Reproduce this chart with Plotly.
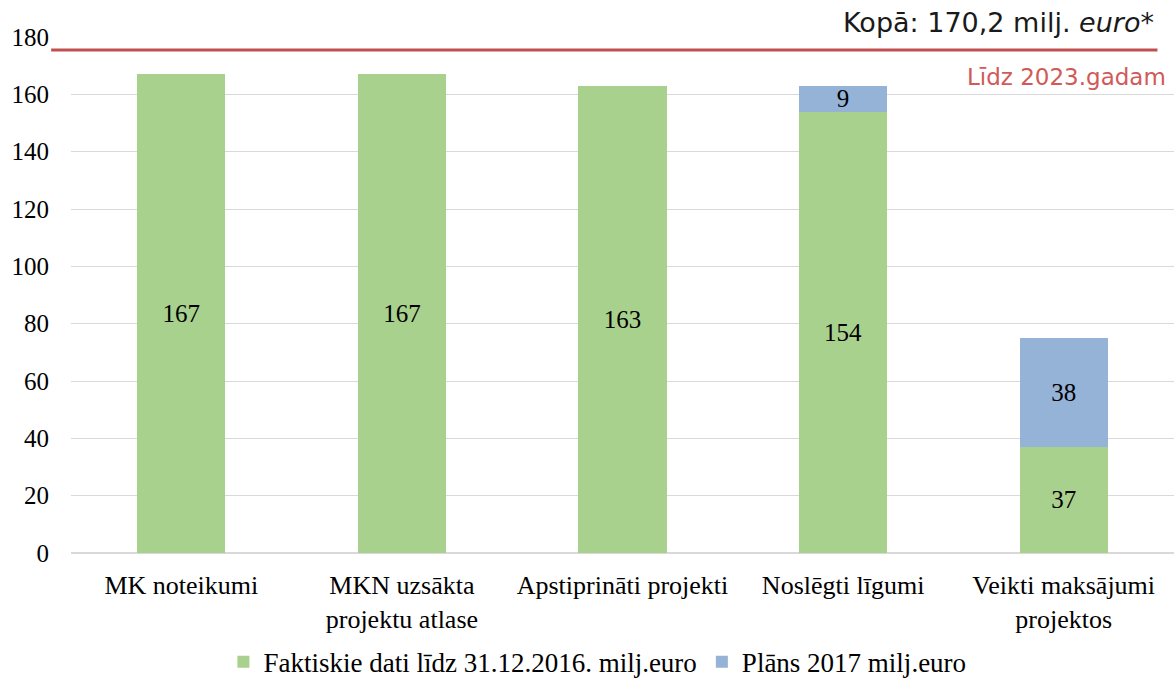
import plotly.graph_objects as go

categories = ["MK noteikumi", "MKN uzsākta<br>projektu atlase", "Apstiprināti projekti",
              "Noslēgti līgumi", "Veikti maksājumi<br>projektos"]
actual = [167, 167, 163, 154, 37]
plan = [None, None, None, 9, 38]
series_names = ["Faktiskie dati līdz 31.12.2016. milj.euro", "Plāns 2017 milj.euro"]
total_line = 175.5
y_ticks = [0, 20, 40, 60, 80, 100, 120, 140, 160, 180]

serif = "Liberation Serif"
sans = "DejaVu Sans"

fig = go.Figure()
fig.add_trace(go.Bar(
    x=categories, y=actual, name=series_names[0],
    marker=dict(color="#a9d18e", line=dict(width=0)),
    text=[str(v) for v in actual], textposition="inside", insidetextanchor="middle",
    textangle=0, constraintext="none",
    textfont=dict(family=serif, size=25, color="#000000"), width=0.4,
))
fig.add_trace(go.Bar(
    x=categories, y=plan, name=series_names[1],
    marker=dict(color="#95b3d7", line=dict(width=0)),
    text=[str(v) if v else "" for v in plan], textposition="inside", insidetextanchor="middle",
    textangle=0, constraintext="none",
    textfont=dict(family=serif, size=25, color="#000000"), width=0.4,
))

fig.add_shape(type="line", xref="paper", yref="y", x0=-0.018, x1=0.985,
              y0=total_line, y1=total_line, line=dict(color="#c0504d", width=3))
fig.add_annotation(xref="paper", yref="paper", x=0.984, y=1.029, xanchor="right", yanchor="middle",
                   text="Kopā: 170,2 milj. <i>euro</i>*", showarrow=False,
                   font=dict(family=sans, size=27, color="#1a1a1a"))
fig.add_annotation(xref="paper", yref="paper", x=0.995, y=0.9225, xanchor="right", yanchor="middle",
                   text="Līdz 2023.gadam", showarrow=False,
                   font=dict(family=sans, size=23, color="#d05a58"))

fig.update_layout(
    barmode="stack",
    width=1176, height=680,
    margin=dict(l=71, r=2, t=37, b=127, autoexpand=False),
    plot_bgcolor="white", paper_bgcolor="white",
    showlegend=True,
    legend=dict(orientation="h", xref="container", yref="container", x=0.508, xanchor="center",
                y=0.026, yanchor="middle",
                font=dict(family=serif, size=27, color="#000000"), itemwidth=30,
                traceorder="normal"),
    font=dict(family=serif, size=26, color="#000000"),
)
fig.update_yaxes(range=[0, 180], tickvals=y_ticks, showgrid=True, gridcolor="#d9d9d9", gridwidth=1,
                 zeroline=True, zerolinecolor="#d9d9d9", showline=False, automargin=False,
                 tickfont=dict(family=serif, size=25, color="#000000"), ticklabelstandoff=21)
fig.update_xaxes(showgrid=False, showline=False, automargin=False,
                 tickfont=dict(family=serif, size=26, color="#000000"),
                 ticklabelstandoff=14)

fig.write_html("out.html", config={"displayModeBar": False},
               post_script="document.body.style.margin='0';document.body.style.padding='0';"
                           "document.documentElement.style.overflow='hidden';")
